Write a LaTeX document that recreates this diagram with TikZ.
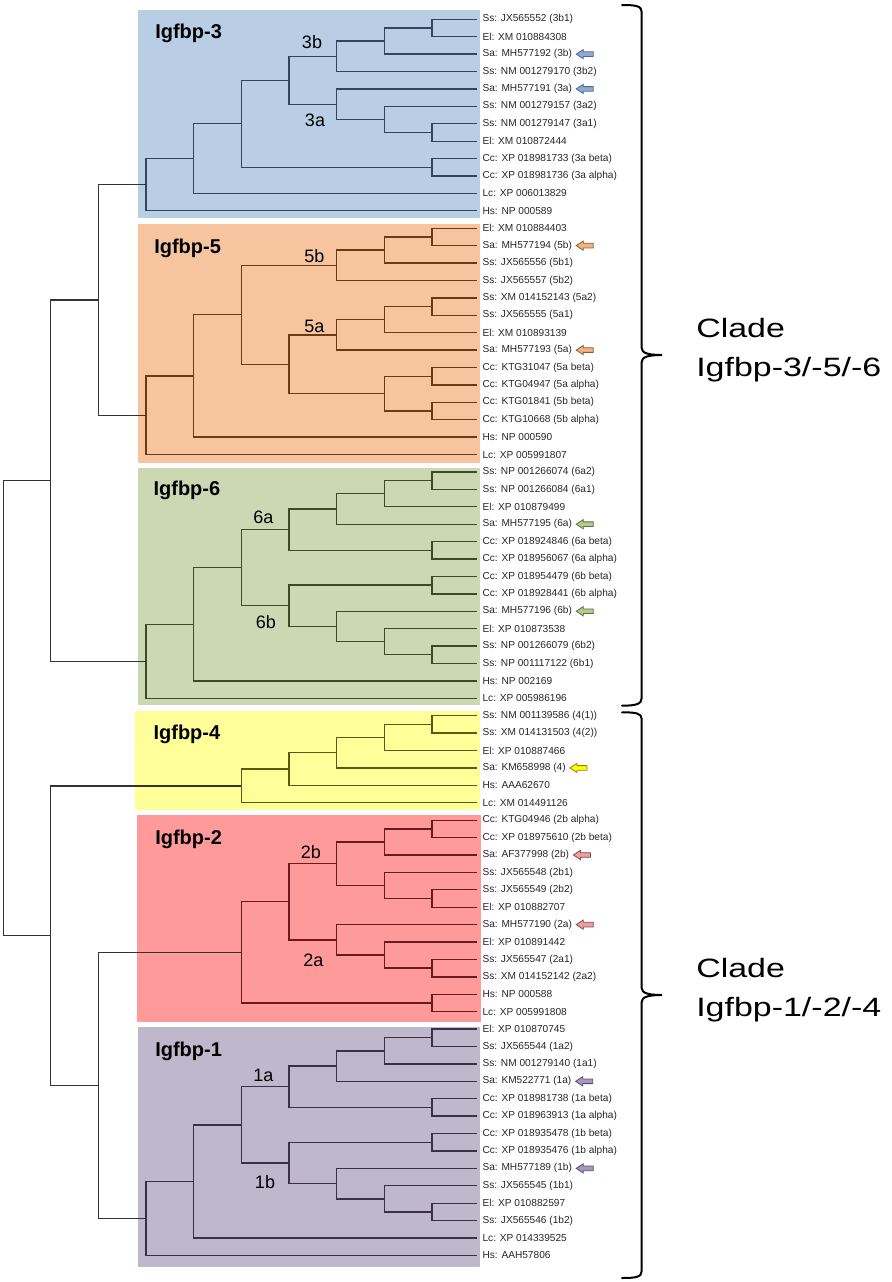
\documentclass[tikz,border=0pt]{standalone}
\usepackage{fontspec}
\setmainfont{Liberation Sans}
\usetikzlibrary{calc}
\definecolor{bxblue}{HTML}{B9CDE5}
\definecolor{bxorange}{HTML}{F6C5A0}
\definecolor{bxgreen}{HTML}{CCD8B4}
\definecolor{bxyellow}{HTML}{FFFF99}
\definecolor{bxred}{HTML}{FF9A9A}
\definecolor{bxpurple}{HTML}{BFB7CB}
\definecolor{lnblue}{HTML}{2F4560}
\definecolor{lnorange}{HTML}{6B3A12}
\definecolor{lngreen}{HTML}{3D4A22}
\definecolor{lnyellow}{HTML}{5A5A10}
\definecolor{lnred}{HTML}{6A1A1A}
\definecolor{lnpurple}{HTML}{3A3048}
\definecolor{lnout}{HTML}{333333}
\definecolor{arblue}{HTML}{8FAAD0}
\definecolor{arblueD}{HTML}{4A6A90}
\definecolor{arorange}{HTML}{F2B283}
\definecolor{arorangeD}{HTML}{8A5A30}
\definecolor{argreen}{HTML}{B5CC90}
\definecolor{argreenD}{HTML}{5A7040}
\definecolor{aryellow}{HTML}{FFFF00}
\definecolor{aryellowD}{HTML}{8A8A00}
\definecolor{arred}{HTML}{E8A0A0}
\definecolor{arredD}{HTML}{8A4A4A}
\definecolor{arpurple}{HTML}{A898C0}
\definecolor{arpurpleD}{HTML}{5A4A70}
\newcommand\cl[4]{%
  \draw (#3) -- (#3 -| #2) -- (#4 -| #2) -- (#4);
  \coordinate (#1) at ($(#3 -| #2)!0.5!(#4 -| #2)$);}
\newcommand\leaf[2]{%
  \coordinate (L#1) at (477,{19.3+17.41*#1});
  \node[leaflbl] (T#1) at (482.3,{19.3+17.41*#1}) {#2};}
\newcommand\sarrow[3]{%
  \filldraw[fill=#2,draw=#3,line width=0.6pt,line join=miter]
    ($(#1.east)+(4,0)$) -- ++(7,-4.6) -- ++(0,2.3) -- ++(10,0) -- ++(0,4.6)
    -- ++(-10,0) -- ++(0,2.3) -- cycle;}
\begin{document}
\begin{tikzpicture}[x=0.75pt,y=-0.75pt,
  leaflbl/.style={anchor=west,inner sep=0pt,font=\fontsize{7.6}{9}\selectfont,text=black!85},
  sublbl/.style={inner sep=0pt,font=\fontsize{13.5}{16}\selectfont,text=black},
  grplbl/.style={anchor=base west,inner sep=0pt,font=\bfseries\fontsize{15}{18}\selectfont,text=black},
  cladelbl/.style={anchor=base west,inner sep=0pt,font=\fontsize{19.9}{24}\selectfont,text=black},
  branch/.style={line width=1pt},
  bracestyle/.style={line width=1.5pt,line cap=round}]
\useasboundingbox (0,0) rectangle (892,1282);
% group boxes
\fill[bxblue]   (138,10)     rectangle (480,218.3);
\fill[bxorange] (138,224.3)  rectangle (480,463);
\fill[bxgreen]  (138,467.7)  rectangle (480,705);
\fill[bxyellow] (135,711)    rectangle (480,810);
\fill[bxred]    (137.3,815)  rectangle (481,1021.7);
\fill[bxpurple] (138.3,1027) rectangle (480,1266.7);
% level coordinates
\foreach \k in {0,...,9} {\coordinate (K\k) at ({3.2+47.63*\k},0);}
% leaves
\leaf{0}{Ss: JX565552 (3b1)}
\leaf{1}{El: XM 010884308}
\leaf{2}{Sa: MH577192 (3b)}
\leaf{3}{Ss: NM 001279170 (3b2)}
\leaf{4}{Sa: MH577191 (3a)}
\leaf{5}{Ss: NM 001279157 (3a2)}
\leaf{6}{Ss: NM 001279147 (3a1)}
\leaf{7}{El: XM 010872444}
\leaf{8}{Cc: XP 018981733 (3a beta)}
\leaf{9}{Cc: XP 018981736 (3a alpha)}
\leaf{10}{Lc: XP 006013829}
\leaf{11}{Hs: NP 000589}
\leaf{12}{El: XM 010884403}
\leaf{13}{Sa: MH577194 (5b)}
\leaf{14}{Ss: JX565556 (5b1)}
\leaf{15}{Ss: JX565557 (5b2)}
\leaf{16}{Ss: XM 014152143 (5a2)}
\leaf{17}{Ss: JX565555 (5a1)}
\leaf{18}{El: XM 010893139}
\leaf{19}{Sa: MH577193 (5a)}
\leaf{20}{Cc: KTG31047 (5a beta)}
\leaf{21}{Cc: KTG04947 (5a alpha)}
\leaf{22}{Cc: KTG01841 (5b beta)}
\leaf{23}{Cc: KTG10668 (5b alpha)}
\leaf{24}{Hs: NP 000590}
\leaf{25}{Lc: XP 005991807}
\leaf{26}{Ss: NP 001266074 (6a2)}
\leaf{27}{Ss: NP 001266084 (6a1)}
\leaf{28}{El: XP 010879499}
\leaf{29}{Sa: MH577195 (6a)}
\leaf{30}{Cc: XP 018924846 (6a beta)}
\leaf{31}{Cc: XP 018956067 (6a alpha)}
\leaf{32}{Cc: XP 018954479 (6b beta)}
\leaf{33}{Cc: XP 018928441 (6b alpha)}
\leaf{34}{Sa: MH577196 (6b)}
\leaf{35}{El: XP 010873538}
\leaf{36}{Ss: NP 001266079 (6b2)}
\leaf{37}{Ss: NP 001117122 (6b1)}
\leaf{38}{Hs: NP 002169}
\leaf{39}{Lc: XP 005986196}
\leaf{40}{Ss: NM 001139586 (4(1))}
\leaf{41}{Ss: XM 014131503 (4(2))}
\leaf{42}{El: XP 010887466}
\leaf{43}{Sa: KM658998 (4)}
\leaf{44}{Hs: AAA62670}
\leaf{45}{Lc: XM 014491126}
\leaf{46}{Cc: KTG04946 (2b alpha)}
\leaf{47}{Cc: XP 018975610 (2b beta)}
\leaf{48}{Sa: AF377998 (2b)}
\leaf{49}{Ss: JX565548 (2b1)}
\leaf{50}{Ss: JX565549 (2b2)}
\leaf{51}{El: XP 010882707}
\leaf{52}{Sa: MH577190 (2a)}
\leaf{53}{El: XP 010891442}
\leaf{54}{Ss: JX565547 (2a1)}
\leaf{55}{Ss: XM 014152142 (2a2)}
\leaf{56}{Hs: NP 000588}
\leaf{57}{Lc: XP 005991808}
\leaf{58}{El: XP 010870745}
\leaf{59}{Ss: JX565544 (1a2)}
\leaf{60}{Ss: NM 001279140 (1a1)}
\leaf{61}{Sa: KM522771 (1a)}
\leaf{62}{Cc: XP 018981738 (1a beta)}
\leaf{63}{Cc: XP 018963913 (1a alpha)}
\leaf{64}{Cc: XP 018935478 (1b beta)}
\leaf{65}{Cc: XP 018935476 (1b alpha)}
\leaf{66}{Sa: MH577189 (1b)}
\leaf{67}{Ss: JX565545 (1b1)}
\leaf{68}{El: XP 010882597}
\leaf{69}{Ss: JX565546 (1b2)}
\leaf{70}{Lc: XP 014339525}
\leaf{71}{Hs: AAH57806}
% Igfbp-3
\begin{scope}[branch,draw=lnblue]
\cl{a3}{K9}{L0}{L1}
\cl{b3}{K8}{a3}{L2}
\cl{n3b}{K7}{b3}{L3}
\cl{c3}{K9}{L6}{L7}
\cl{d3}{K8}{L5}{c3}
\cl{n3a}{K7}{L4}{d3}
\cl{e3}{K6}{n3b}{n3a}
\cl{f3}{K9}{L8}{L9}
\cl{g3}{K5}{e3}{f3}
\cl{h3}{K4}{g3}{L10}
\cl{r3}{K3}{h3}{L11}
\end{scope}
% Igfbp-5
\begin{scope}[branch,draw=lnorange]
\cl{a5}{K9}{L12}{L13}
\cl{b5}{K8}{a5}{L14}
\cl{n5b}{K7}{b5}{L15}
\cl{c5}{K9}{L16}{L17}
\cl{d5}{K8}{c5}{L18}
\cl{n5a}{K7}{d5}{L19}
\cl{e5}{K9}{L20}{L21}
\cl{f5}{K9}{L22}{L23}
\cl{g5}{K8}{e5}{f5}
\cl{h5}{K6}{n5a}{g5}
\cl{i5}{K5}{n5b}{h5}
\cl{j5}{K4}{i5}{L24}
\cl{r5}{K3}{j5}{L25}
\end{scope}
% Igfbp-6
\begin{scope}[branch,draw=lngreen]
\cl{a6}{K9}{L26}{L27}
\cl{b6}{K8}{a6}{L28}
\cl{c6}{K7}{b6}{L29}
\cl{d6}{K9}{L30}{L31}
\cl{n6a}{K6}{c6}{d6}
\cl{e6}{K9}{L32}{L33}
\cl{f6}{K9}{L36}{L37}
\cl{g6}{K8}{L35}{f6}
\cl{h6}{K7}{L34}{g6}
\cl{n6b}{K6}{e6}{h6}
\cl{i6}{K5}{n6a}{n6b}
\cl{j6}{K4}{i6}{L38}
\cl{r6}{K3}{j6}{L39}
\end{scope}
% Igfbp-4
\begin{scope}[branch,draw=lnyellow]
\cl{a4}{K9}{L40}{L41}
\cl{b4}{K8}{a4}{L42}
\cl{c4}{K7}{b4}{L43}
\cl{d4}{K6}{c4}{L44}
\cl{r4}{K5}{d4}{L45}
\end{scope}
% Igfbp-2
\begin{scope}[branch,draw=lnred]
\cl{a2}{K9}{L46}{L47}
\cl{b2}{K8}{a2}{L48}
\cl{c2}{K9}{L50}{L51}
\cl{d2}{K8}{L49}{c2}
\cl{n2b}{K7}{b2}{d2}
\cl{e2}{K9}{L54}{L55}
\cl{f2}{K8}{L53}{e2}
\cl{n2a}{K7}{L52}{f2}
\cl{g2}{K6}{n2b}{n2a}
\cl{h2}{K9}{L56}{L57}
\cl{r2}{K5}{g2}{h2}
\end{scope}
% Igfbp-1
\begin{scope}[branch,draw=lnpurple]
\cl{a1}{K9}{L58}{L59}
\cl{b1}{K8}{a1}{L60}
\cl{c1}{K7}{b1}{L61}
\cl{d1}{K9}{L62}{L63}
\cl{n1a}{K6}{c1}{d1}
\cl{e1}{K9}{L64}{L65}
\cl{f1}{K9}{L68}{L69}
\cl{g1}{K8}{L67}{f1}
\cl{h1}{K7}{L66}{g1}
\cl{n1b}{K6}{e1}{h1}
\cl{i1}{K5}{n1a}{n1b}
\cl{j1}{K4}{i1}{L70}
\cl{r1}{K3}{j1}{L71}
\end{scope}
% backbone
\begin{scope}[branch,draw=lnout]
\cl{p35}{K2}{r3}{r5}
\cl{p356}{K1}{p35}{r6}
\cl{p21}{K2}{r2}{r1}
\cl{p124}{K1}{r4}{p21}
\cl{root}{K0}{p356}{p124}
\end{scope}
% group labels
\node[grplbl] (G3) at (155,38.3) {Igfbp-3};
\node[grplbl] (G5) at (154,253.3) {Igfbp-5};
\node[grplbl] (G6) at (153.3,495) {Igfbp-6};
\node[grplbl] (G4) at (153.3,739.3) {Igfbp-4};
\node[grplbl] (G2) at (155,844.3) {Igfbp-2};
\node[grplbl] (G1) at (155,1056.7) {Igfbp-1};
% subclade labels
\node[sublbl] (S3b) at (312,42.3) {3b};
\node[sublbl] (S3a) at (315,120) {3a};
\node[sublbl] (S5b) at (314.3,255.7) {5b};
\node[sublbl] (S5a) at (314.3,326.7) {5a};
\node[sublbl] (S6a) at (263.3,517.7) {6a};
\node[sublbl] (S6b) at (266,621.7) {6b};
\node[sublbl] (S2b) at (311,852.3) {2b};
\node[sublbl] (S2a) at (313.3,960) {2a};
\node[sublbl] (S1a) at (263.3,1075) {1a};
\node[sublbl] (S1b) at (265,1182.3) {1b};
% arrows
\sarrow{T2}{arblue}{arblueD}
\sarrow{T4}{arblue}{arblueD}
\sarrow{T13}{arorange}{arorangeD}
\sarrow{T19}{arorange}{arorangeD}
\sarrow{T29}{argreen}{argreenD}
\sarrow{T34}{argreen}{argreenD}
\sarrow{T43}{aryellow}{aryellowD}
\sarrow{T48}{arred}{arredD}
\sarrow{T52}{arred}{arredD}
\sarrow{T61}{arpurple}{arpurpleD}
\sarrow{T66}{arpurple}{arpurpleD}
% braces
\draw[bracestyle] (622,5) .. controls (636,5) and (641.7,6) .. (641.7,12)
  -- (641.7,348) .. controls (641.7,353) and (648,355) .. (662,355)
  .. controls (648,355) and (641.7,357) .. (641.7,362)
  -- (641.7,698) .. controls (641.7,704) and (636,705.7) .. (622,705.7);
\draw[bracestyle] (622,712.3) .. controls (636,712.3) and (641.7,713.3) .. (641.7,719)
  -- (641.7,988) .. controls (641.7,993) and (648,995) .. (662,995)
  .. controls (648,995) and (641.7,997) .. (641.7,1002)
  -- (641.7,1271) .. controls (641.7,1277) and (636,1278) .. (622,1278);
% clade labels
\node[cladelbl] (C1a) at (696,337.7) {\scalebox{1.28}[1]{Clade}};
\node[cladelbl] (C1b) at (696,376) {\scalebox{1.28}[1]{Igfbp-3/-5/-6}};
\node[cladelbl] (C2a) at (696,977.7) {\scalebox{1.28}[1]{Clade}};
\node[cladelbl] (C2b) at (696,1016) {\scalebox{1.28}[1]{Igfbp-1/-2/-4}};
\end{tikzpicture}
\end{document}
